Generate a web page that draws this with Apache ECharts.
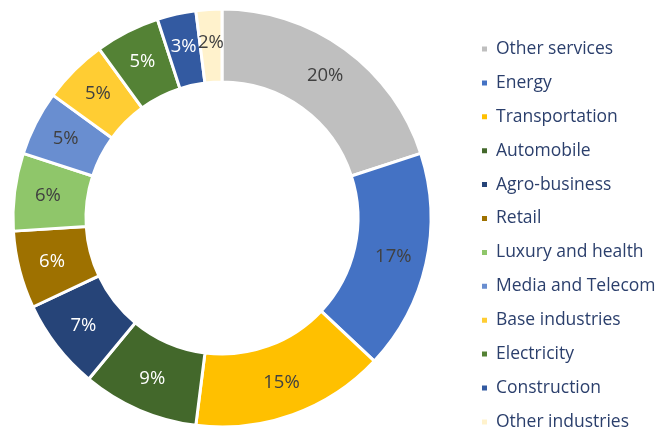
<!DOCTYPE html>
<html style="height: 100%">
	<head>
		<meta charset="utf-8">
	</head>
	<body style="height: 100%; margin: 0; background: #fff">
		<div id="container" style="width: 670px; height: 430px"></div>

		<script type="text/javascript" src="https://cdn.jsdelivr.net/npm/echarts@6/dist/echarts.min.js"></script>
		<script type="text/javascript">
			var dom = document.getElementById("container");
			var myChart = echarts.init(dom);

			// sectors, clockwise from 12 o'clock
			const sectors = ['Other services', 'Energy', 'Transportation', 'Automobile', 'Agro-business', 'Retail',
				'Luxury and health', 'Media and Telecom', 'Base industries', 'Electricity', 'Construction', 'Other industries'];
			const shares = [20, 17, 15, 9, 7, 6, 6, 5, 5, 5, 3, 2];
			const colors = ['#bfbfbf', '#4472c4', '#ffc000', '#43682b', '#264478', '#9e7100',
				'#8fc66a', '#698ed0', '#ffcd33', '#548235', '#335aa1', '#fff2cc'];
			// white labels on the dark slices
			const darkSlices = ['Automobile', 'Agro-business', 'Retail', 'Electricity', 'Construction'];

			var data = sectors.map(function(name, i) {
				return {
					name: name,
					value: shares[i],
					itemStyle: { color: colors[i] },
					label: { color: darkSlices.indexOf(name) >= 0 ? '#ffffff' : '#404040' }
				};
			});

			var option = {
				animation: false,
				legend: {
					orient: 'vertical',
					left: 480,
					top: 39,
					height: 420,
					padding: 0,
					itemWidth: 7,
					itemHeight: 7,
					itemGap: 13.9,
					icon: 'rect',
					selectedMode: false,
					textStyle: {
						fontFamily: 'Open Sans',
						fontSize: 17.5,
						lineHeight: 20,
						padding: [0, 0, 0, 3],
						color: '#2b3f6c'
					},
					data: sectors
				},
				series: [{
					type: 'pie',
					center: [222, 218],
					radius: [136, 209],
					startAngle: 90,
					clockwise: true,
					itemStyle: {
						borderColor: '#ffffff',
						borderWidth: 3
					},
					label: {
						position: 'inside',
						formatter: '{c}%',
						fontFamily: 'Open Sans',
						fontSize: 18.5
					},
					labelLine: { show: false },
					emphasis: { disabled: true },
					data: data
				}]
			};

			myChart.setOption(option);
		</script>
	</body>
</html>
